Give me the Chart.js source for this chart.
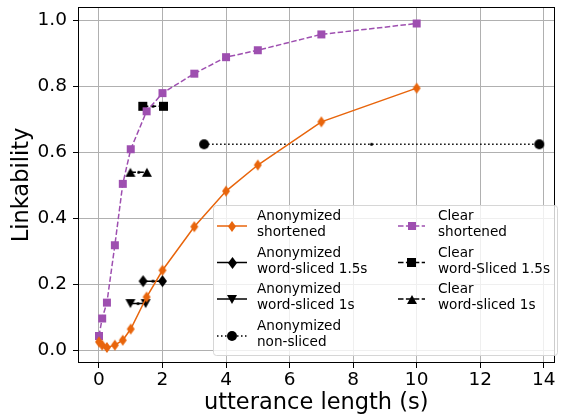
<!DOCTYPE html>
<html>
<head>
<meta charset="utf-8">
<script src="https://cdn.jsdelivr.net/npm/chart.js@4"></script>
<style>
  body { margin: 0; background: #fff; }
  #wrap { width: 561px; height: 414px; position: relative; }
</style>
</head>
<body>
<div id="wrap"><canvas id="chart"></canvas></div>
<script>
// data
const lengths = [0, 0.1, 0.25, 0.5, 0.75, 1, 1.5, 2, 3, 4, 5, 7, 10];
const anonShortened = [0.026, 0.016, 0.009, 0.016, 0.031, 0.065, 0.162, 0.243, 0.375, 0.483, 0.562, 0.693, 0.795];
const clearShortened = [0.044, 0.097, 0.145, 0.319, 0.505, 0.61, 0.725, 0.78, 0.839, 0.889, 0.91, 0.958, 0.991];

// sliced / non-sliced runs: [min length, mean length, max length] at one linkability
const anonSliced15X = [1.39, 1.7, 2.0];
const anonSliced15Y = 0.21;
const anonSliced1X = [0.99, 1.23, 1.47];
const anonSliced1Y = 0.142;
const anonNonSlicedX = [3.31, 8.58, 13.86];
const anonNonSlicedY = 0.625;
const clearSliced15X = [1.38, 1.7, 2.03];
const clearSliced15Y = 0.74;
const clearSliced1X = [0.99, 1.25, 1.51];
const clearSliced1Y = 0.54;

const xTicks = [0, 2, 4, 6, 8, 10, 12, 14];
const yTicks = [0, 0.2, 0.4, 0.6, 0.8, 1.0];

const ORANGE = '#e8650c';
const PURPLE = '#9e4fb0';
const FONT = 'DejaVu Sans';

function makeMarker(shape, color, w, h) {
  const c = document.createElement('canvas');
  c.width = w + 2;
  c.height = h + 2;
  const g = c.getContext('2d');
  const cx = c.width / 2, cy = c.height / 2;
  g.fillStyle = color;
  g.beginPath();
  if (shape === 'diamond') {
    g.moveTo(cx, cy - h / 2); g.lineTo(cx + w / 2, cy); g.lineTo(cx, cy + h / 2); g.lineTo(cx - w / 2, cy);
  } else if (shape === 'square') {
    g.rect(cx - w / 2, cy - h / 2, w, h);
  } else if (shape === 'triUp') {
    g.moveTo(cx, cy - h / 2); g.lineTo(cx + w / 2, cy + h / 2); g.lineTo(cx - w / 2, cy + h / 2);
  } else if (shape === 'triDown') {
    g.moveTo(cx, cy + h / 2); g.lineTo(cx + w / 2, cy - h / 2); g.lineTo(cx - w / 2, cy - h / 2);
  } else if (shape === 'circle') {
    g.arc(cx, cy, w / 2, 0, Math.PI * 2);
  }
  g.closePath();
  g.fill();
  return c;
}

const mk = {
  orangeDiamond: makeMarker('diamond', ORANGE, 8, 11),
  purpleSquare: makeMarker('square', PURPLE, 8, 8),
  blackDiamond: makeMarker('diamond', '#000', 9, 12),
  blackSquare: makeMarker('square', '#000', 9, 9),
  blackTriDown: makeMarker('triDown', '#000', 10, 9),
  blackTriUp: makeMarker('triUp', '#000', 10, 9),
  blackCircle: makeMarker('circle', '#000', 10, 10),
  tiny: makeMarker('circle', '#000', 3, 3)
};

function pairs(xs, y) {
  return xs.map(x => ({ x: x, y: y }));
}

function rangeSet(label, xs, y, marker, dash) {
  return {
    label: label,
    data: pairs(xs, y),
    borderColor: '#000',
    backgroundColor: '#000',
    borderWidth: 1.5,
    borderDash: dash,
    pointStyle: [marker, mk.tiny, marker],
    legendMarker: marker
  };
}

const datasets = [
  {
    label: ['Anonymized', 'shortened'],
    data: lengths.map((x, i) => ({ x: x, y: anonShortened[i] })),
    borderColor: ORANGE,
    backgroundColor: ORANGE,
    borderWidth: 1.5,
    borderDash: [],
    pointStyle: mk.orangeDiamond,
    legendMarker: mk.orangeDiamond
  },
  rangeSet(['Anonymized', 'word-sliced 1.5s'], anonSliced15X, anonSliced15Y, mk.blackDiamond, []),
  rangeSet(['Anonymized', 'word-sliced 1s'], anonSliced1X, anonSliced1Y, mk.blackTriDown, []),
  rangeSet(['Anonymized', 'non-sliced'], anonNonSlicedX, anonNonSlicedY, mk.blackCircle, [1.5, 2.5]),
  {
    label: ['Clear', 'shortened'],
    data: lengths.map((x, i) => ({ x: x, y: clearShortened[i] })),
    borderColor: PURPLE,
    backgroundColor: PURPLE,
    borderWidth: 1.5,
    borderDash: [5.5, 2.4],
    pointStyle: mk.purpleSquare,
    legendMarker: mk.purpleSquare
  },
  rangeSet(['Clear', 'word-Sliced 1.5s'], clearSliced15X, clearSliced15Y, mk.blackSquare, [5.5, 2.4]),
  rangeSet(['Clear', 'word-sliced 1s'], clearSliced1X, clearSliced1Y, mk.blackTriUp, [5.5, 2.4])
];

// frame around the plot area
const framePlugin = {
  id: 'frame',
  afterDatasetsDraw(chart) {
    const a = chart.chartArea;
    const g = chart.ctx;
    g.save();
    g.strokeStyle = '#000';
    g.lineWidth = 1;
    g.strokeRect(Math.round(a.left) + 0.5, Math.round(a.top) + 0.5,
      Math.round(a.right - a.left) - 1, Math.round(a.bottom - a.top) - 1);
    g.restore();
  }
};

// two-column legend with two-line labels
const legendPlugin = {
  id: 'mplLegend',
  afterDraw(chart) {
    const g = chart.ctx;
    const box = { x: 213, y: 205, w: 344, h: 150 };
    g.save();
    g.beginPath();
    g.roundRect(box.x + 0.5, box.y + 0.5, box.w, box.h, 3);
    g.fillStyle = 'rgba(255,255,255,0.8)';
    g.fill();
    g.strokeStyle = '#d6d6d6';
    g.lineWidth = 1;
    g.stroke();

    const rowY = [226, 262.5, 299, 336];
    const cols = [{ x0: 217, x1: 247, tx: 257 }, { x0: 398, x1: 425, tx: 438 }];
    g.font = '13.6px "' + FONT + '"';
    g.textBaseline = 'middle';
    g.textAlign = 'left';
    chart.data.datasets.forEach((ds, i) => {
      const col = cols[i < 4 ? 0 : 1];
      const y = rowY[i < 4 ? i : i - 4];
      g.save();
      g.strokeStyle = ds.borderColor;
      g.lineWidth = ds.borderWidth;
      g.setLineDash(ds.borderDash || []);
      g.beginPath();
      g.moveTo(col.x0, y);
      g.lineTo(col.x1, y);
      g.stroke();
      g.restore();
      const m = ds.legendMarker;
      g.drawImage(m, Math.round((col.x0 + col.x1) / 2 - m.width / 2), Math.round(y - m.height / 2));
      g.fillStyle = '#000';
      g.fillText(ds.label[0], col.tx, y - 9.5);
      g.fillText(ds.label[1], col.tx, y + 6.5);
    });
    g.restore();
  }
};

new Chart(document.getElementById('chart'), {
  type: 'line',
  data: { datasets: datasets },
  options: {
    responsive: true,
    maintainAspectRatio: false,
    animation: false,
    layout: { padding: { top: 7, right: 3, left: 0, bottom: 0 } },
    plugins: {
      legend: { display: false },
      tooltip: { enabled: false }
    },
    elements: {
      line: { tension: 0 },
      point: { radius: 5, hoverRadius: 5 }
    },
    scales: {
      x: {
        type: 'linear',
        min: -0.66,
        max: 14.34,
        afterBuildTicks: axis => { axis.ticks = xTicks.map(v => ({ value: v })); },
        afterFit: axis => {
          axis.height = 51;
          axis.paddingLeft = 0;
          axis.paddingRight = 0;
        },
        grid: { color: '#b0b0b0', lineWidth: 1, tickColor: '#000', tickLength: 5 },
        border: { display: false },
        ticks: {
          color: '#000',
          font: { family: FONT, size: 18.5 },
          padding: 1,
          maxRotation: 0,
          autoSkip: false,
          callback: v => String(v)
        },
        title: {
          display: true,
          text: 'utterance length (s)',
          color: '#000',
          font: { family: FONT, size: 22.5, lineHeight: 1.0 },
          padding: { top: 0, bottom: 0 }
        }
      },
      y: {
        min: -0.038,
        max: 1.041,
        afterBuildTicks: axis => { axis.ticks = yTicks.map(v => ({ value: v })); },
        afterFit: axis => {
          axis.width = 78;
          axis.paddingTop = 0;
          axis.paddingBottom = 0;
        },
        grid: { color: '#b0b0b0', lineWidth: 1, tickColor: '#000', tickLength: 5 },
        border: { display: false },
        ticks: {
          color: '#000',
          font: { family: FONT, size: 18.5 },
          padding: 6,
          autoSkip: false,
          callback: v => v.toFixed(1)
        },
        title: {
          display: true,
          text: 'Linkability',
          color: '#000',
          font: { family: FONT, size: 22.5, lineHeight: 1.0 },
          padding: { top: 11, bottom: 0 }
        }
      }
    }
  },
  plugins: [framePlugin, legendPlugin]
});
</script>
</body>
</html>
